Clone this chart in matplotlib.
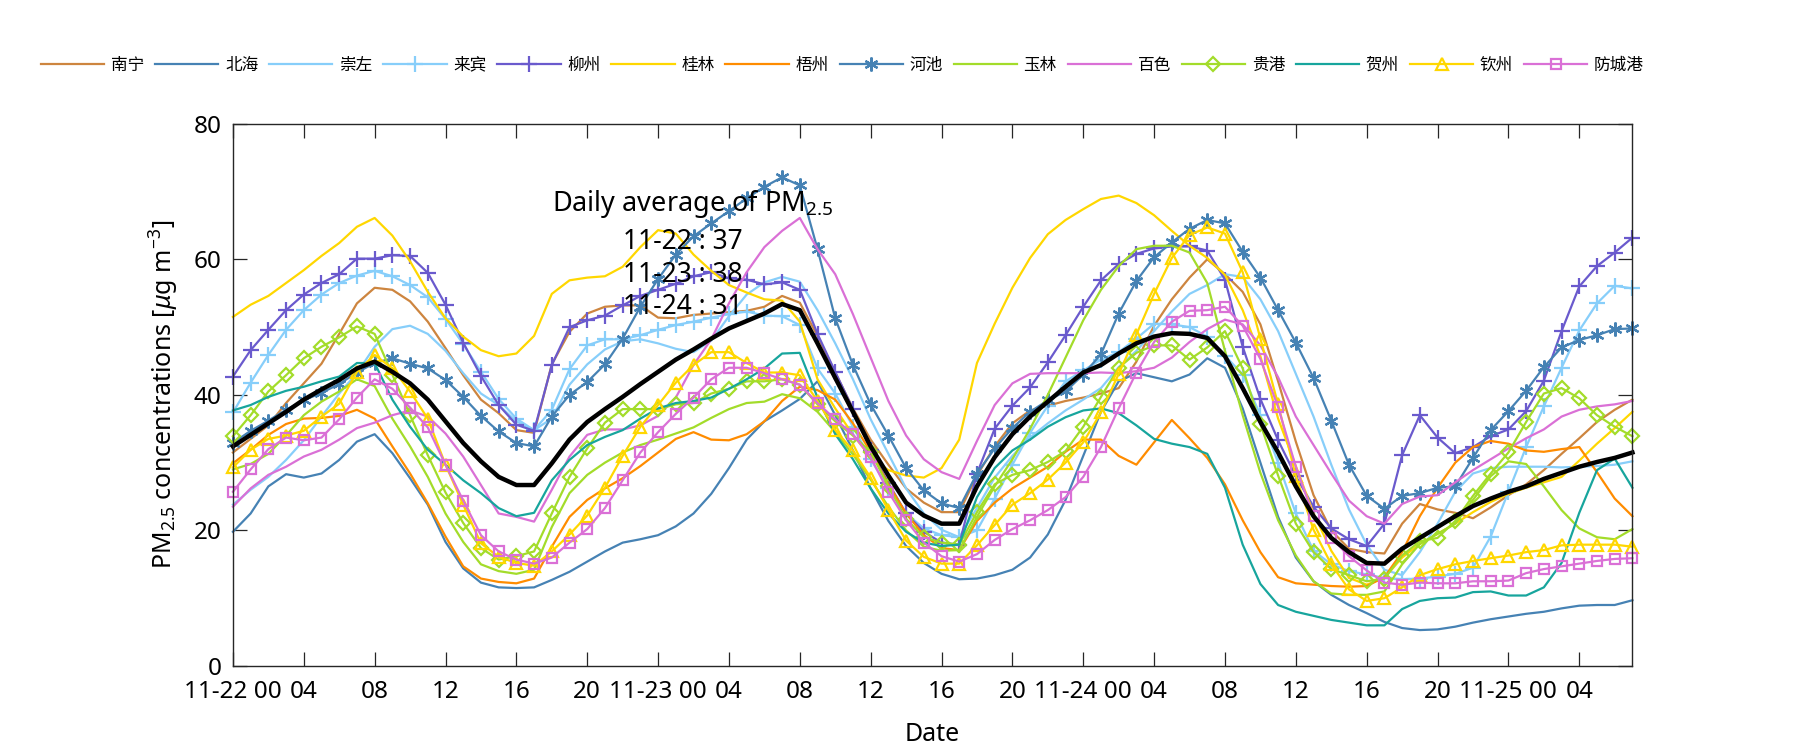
import numpy as np
import matplotlib
matplotlib.use("Agg")
import matplotlib.pyplot as plt

plt.rcParams['font.family'] = ['Noto Sans', 'Noto Sans CJK SC', 'DejaVu Sans']
plt.rcParams['mathtext.fontset'] = 'custom'
plt.rcParams['mathtext.rm'] = 'Noto Sans'
plt.rcParams['mathtext.it'] = 'Noto Sans:italic'

# hourly samples starting 11-22 00:00
hours = np.arange(80)

cities = ["南宁", "北海", "崇左", "来宾", "柳州", "桂林", "梧州",
          "河池", "玉林", "百色", "贵港", "贺州", "钦州", "防城港"]

nanning = [31.5, 33.5, 35.5, 38.8, 41.7, 44.6, 49.0, 53.5, 55.8, 55.5, 53.8, 50.8, 46.9, 42.9, 39.3, 37.3,
           34.8, 34.4, 44.5, 49.3, 52.0, 53.0, 53.2,
           53.2, 51.4, 51.3, 51.8, 52.0, 52.2, 52.4, 53.0, 54.6, 53.6, 48.7, 43.3, 38.0, 33.4, 29.7, 26.2,
           24.1, 22.7, 22.7, 28.1, 32.4, 35.8, 37.7, 38.4, 39.1, 39.6, 40.2,
           41.0, 44.9, 50.2, 54.1, 57.3, 60.0, 57.8, 55.2, 50.4, 42.0, 33.1, 25.2, 20.0, 17.3, 16.8, 16.6,
           21.0, 23.9, 23.1, 22.6, 21.8, 23.4, 25.2, 26.8, 28.9, 31.3, 33.6, 36.0, 37.8, 39.3]
beihai = [19.8, 22.5, 26.5, 28.3, 27.8, 28.4, 30.4, 33.1, 34.2, 31.4, 27.7, 23.8, 18.3, 14.4, 12.3, 11.6,
          11.5, 11.6, 12.7, 13.9, 15.4, 16.9, 18.2,
          18.7, 19.3, 20.6, 22.5, 25.4, 29.2, 33.4, 36.1, 37.7, 39.4, 42.0, 37.0, 31.8, 26.2, 21.4, 17.7,
          15.2, 13.6, 12.8, 12.9, 13.4, 14.2, 16.0, 19.4, 24.5, 31.0, 37.5,
          42.0, 43.2, 42.6, 42.0, 43.0, 45.4, 44.0, 38.0, 30.0, 22.0, 16.0, 12.5, 10.5, 9.0, 7.8, 6.5,
          5.6, 5.3, 5.4, 5.8, 6.4, 6.9, 7.3, 7.7, 8.0, 8.5, 8.9, 9.0, 9.0, 9.7]
chongzuo = [23.8, 26.0, 27.9, 30.4, 33.3, 36.8, 40.2, 43.2, 47.1, 49.7, 50.2, 49.0, 46.5, 43.2, 40.2, 38.5,
            36.1, 34.8, 36.5, 41.5, 44.5, 46.7, 47.9,
            48.2, 47.6, 46.8, 46.3, 48.0, 51.6, 54.8, 56.6, 57.4, 56.7, 52.5, 47.6, 42.3, 36.4, 31.3, 26.2,
            22.5, 20.1, 19.0, 23.3, 27.8, 31.0, 33.7, 35.8, 37.7, 39.3, 41.0,
            44.1, 46.5, 49.4, 52.3, 54.9, 56.2, 57.8, 57.4, 54.1, 49.4, 43.1, 36.8, 29.7, 23.1, 17.9, 14.2,
            13.4, 16.8, 21.0, 25.7, 28.4, 29.2, 29.4, 29.4, 29.4, 29.3, 29.4, 29.5, 29.7, 30.2]
laibin = [37.4, 41.8, 45.9, 49.6, 52.5, 54.8, 56.5, 57.6, 58.3, 57.5, 56.2, 54.4, 51.2, 47.5, 43.4, 39.4,
          36.5, 34.8, 37.8, 43.8, 47.3, 48.2, 48.2,
          48.8, 49.6, 50.3, 50.8, 51.4, 51.9, 52.3, 51.7, 51.6, 50.3, 43.9, 40.2, 35.3, 30.5, 26.2, 22.5,
          20.3, 19.3, 19.0, 20.0, 24.7, 29.7, 34.4, 38.4, 42.0, 43.6, 45.2,
          46.3, 48.3, 50.5, 50.4, 50.0, 48.6, 45.8, 43.0, 37.0, 30.0, 22.5, 17.0, 15.0, 14.0, 13.5, 13.0,
          12.8, 12.9, 13.2, 13.6, 14.5, 19.1, 25.7, 32.3, 38.3, 44.0, 49.5, 53.5, 56.1, 55.7]
liuzhou = [42.7, 46.6, 49.6, 52.5, 54.8, 56.5, 57.8, 60.1, 60.1, 60.6, 60.5, 58.0, 53.3, 47.7, 42.8, 38.5,
           35.6, 34.7, 44.4, 50.0, 51.0, 51.7, 53.2,
           54.6, 55.5, 56.4, 57.5, 58.1, 57.2, 57.0, 56.3, 56.6, 55.5, 49.0, 43.4, 37.9, 31.8, 27.0, 22.5,
           19.8, 18.2, 17.9, 28.4, 35.0, 38.4, 41.1, 44.8, 48.8, 53.0, 56.9,
           59.3, 60.8, 61.6, 61.9, 61.9, 61.3, 57.0, 47.1, 39.4, 33.3, 28.0, 23.5, 20.3, 18.7, 17.7, 21.0,
           31.1, 37.0, 33.7, 31.4, 32.3, 33.9, 34.9, 37.6, 42.1, 49.4, 56.0, 59.0, 61.0, 63.2]
guilin = [51.5, 53.3, 54.6, 56.5, 58.4, 60.5, 62.4, 64.8, 66.1, 63.5, 59.7, 55.2, 51.3, 48.6, 46.6, 45.7,
          46.1, 48.7, 54.9, 56.9, 57.3, 57.5, 58.9,
          61.8, 64.3, 63.8, 60.7, 58.3, 56.2, 55.1, 54.1, 53.9, 50.8, 42.3, 38.0, 34.1, 30.8, 28.9, 28.1,
          27.8, 29.2, 33.4, 44.7, 50.5, 55.8, 60.2, 63.7, 65.8, 67.4, 68.9,
          69.4, 68.3, 66.5, 64.2, 62.0, 60.2, 57.7, 52.5, 45.7, 36.5, 29.5, 22.5, 17.0, 13.0, 12.0, 13.0,
          16.0, 18.0, 19.5, 21.0, 22.7, 24.2, 25.4, 26.3, 27.1, 27.9, 30.3, 32.8, 35.1, 37.5]
wuzhou = [29.9, 31.9, 34.1, 35.7, 36.5, 36.6, 36.9, 37.8, 36.5, 32.4, 28.4, 24.0, 19.1, 14.7, 12.9, 12.4,
          12.2, 12.9, 17.6, 22.0, 24.5, 26.2, 27.7,
          29.5, 31.5, 33.5, 34.5, 33.4, 33.3, 34.2, 36.1, 39.1, 41.2, 40.7, 39.3, 35.8, 31.6, 26.8, 22.5,
          19.3, 17.4, 17.1, 21.4, 24.1, 26.2, 27.8, 29.4, 31.6, 33.4, 33.4,
          31.0, 29.7, 33.0, 36.3, 33.6, 30.7, 26.8, 21.5, 16.8, 13.1, 12.2, 12.0, 11.8, 11.7, 11.8, 13.1,
          16.8, 22.1, 26.3, 30.0, 32.3, 33.2, 32.8, 31.8, 31.6, 32.0, 32.3, 28.6, 24.7, 22.1]
hechi = [32.9, 34.7, 36.2, 37.8, 39.2, 40.3, 41.6, 43.3, 44.7, 45.4, 44.6, 43.9, 42.2, 39.7, 36.9, 34.6,
         32.9, 32.4, 36.8, 40.0, 41.9, 44.5,
         48.3, 53.0, 57.1, 60.7, 63.4, 65.3, 67.1, 69.0, 70.7, 72.1, 70.9, 61.5, 51.3, 44.4, 38.6, 34.0,
         29.2, 25.9, 24.0, 23.3, 28.4, 32.1, 35.1, 37.5, 39.2, 40.5, 43.0,
         46.0, 52.0, 56.8, 60.3, 62.5, 64.5, 65.8, 65.3, 61.1, 57.3, 52.5, 47.7, 42.5, 36.2, 29.7, 25.1,
         23.2, 25.1, 25.5, 26.3, 26.5, 30.7, 34.8, 37.6, 40.6, 44.1, 47.0, 48.1, 48.8, 49.7, 49.8]
yulin = [29.0, 29.8, 31.3, 34.0, 37.0, 39.0, 40.5, 42.3, 41.3, 36.5, 32.4, 27.9, 22.5, 18.3, 15.0, 14.0,
         13.6, 14.2, 20.5, 25.5, 28.2, 30.0, 31.5,
         32.6, 33.4, 34.3, 35.2, 36.6, 37.9, 38.8, 39.0, 40.1, 39.5, 37.5, 34.5, 31.2, 27.5, 23.5, 20.0,
         17.6, 17.0, 17.1, 22.0, 26.5, 30.5, 35.0, 40.0, 45.5, 51.0, 55.5,
         59.0, 61.5, 62.0, 62.0, 61.0, 56.5, 46.5, 37.0, 28.5, 21.5, 16.3, 12.5, 10.7, 10.5, 10.5, 11.0,
         15.0, 18.0, 19.5, 21.0, 24.5, 28.0, 30.2, 29.8, 26.5, 23.0, 20.3, 19.0, 18.7, 20.2]
baise = [23.5, 26.2, 28.2, 29.4, 30.9, 31.9, 33.4, 35.1, 35.9, 37.0, 37.7, 36.8, 34.3, 30.9, 26.7, 22.5,
         22.0, 21.3, 26.0, 30.9, 34.1, 34.9, 34.9,
         35.5, 36.9, 39.6, 44.4, 48.2, 53.5, 58.1, 61.8, 64.2, 66.1, 61.5, 57.8, 51.9, 45.5, 39.1, 34.0,
         30.5, 28.6, 27.6, 33.2, 38.5, 41.7, 43.1, 43.2, 43.2, 43.2, 43.3,
         43.2, 43.5, 44.0, 45.5, 47.8, 49.7, 51.1, 50.4, 47.3, 42.6, 36.8, 32.6, 28.4, 24.4, 22.1, 21.0,
         23.9, 25.0, 25.2, 27.1, 28.9, 30.5, 32.1, 33.6, 34.9, 36.8, 37.8, 38.3, 38.6, 39.1]
guigang = [33.9, 37.0, 40.5, 42.9, 45.4, 47.1, 48.5, 50.1, 49.0, 43.0, 37.0, 31.1, 25.6, 21.1, 17.4, 15.7,
           16.2, 16.9, 22.5, 27.9, 32.1, 35.9, 37.9,
           37.9, 37.9, 38.6, 38.8, 40.2, 40.9, 42.0, 42.0, 42.3, 41.5, 38.6, 36.1, 34.0, 31.6, 26.5, 21.7,
           19.0, 18.2, 17.9, 22.7, 26.8, 28.2, 28.9, 30.1, 31.7, 35.3, 39.7,
           44.0, 46.2, 47.3, 47.3, 45.2, 47.0, 49.4, 43.9, 35.7, 28.1, 21.0, 16.8, 14.3, 13.4, 12.5, 12.9,
           16.3, 18.4, 18.9, 21.4, 25.1, 28.4, 31.5, 36.0, 40.2, 41.0, 39.5, 37.0, 35.3, 33.9]
hezhou = [37.7, 38.5, 39.7, 40.6, 41.2, 42.0, 42.7, 44.7, 44.7, 39.3, 35.3, 31.9, 29.7, 27.4, 25.5, 23.3,
          22.1, 22.6, 27.4, 30.4, 32.6, 33.8, 34.8,
          36.5, 38.0, 38.8, 39.1, 39.6, 40.9, 42.3, 43.9, 46.1, 46.2, 39.6, 34.2, 30.5, 26.2, 22.5, 19.8,
          18.2, 17.7, 17.9, 24.9, 29.2, 31.8, 33.4, 35.3, 36.7, 37.7, 38.0,
          37.3, 35.5, 33.5, 32.8, 32.3, 31.3, 26.3, 17.9, 12.1, 9.0, 8.0, 7.4, 6.8, 6.4, 6.0, 6.0,
          8.4, 9.6, 10.0, 10.1, 10.9, 11.0, 10.4, 10.4, 11.6, 15.2, 22.6, 28.9, 30.6, 26.3]
qinzhou = [29.3, 31.9, 33.5, 34.0, 34.7, 36.8, 38.7, 43.4, 45.9, 43.9, 40.5, 36.5, 29.7, 23.8, 18.1, 16.1,
           15.2, 14.8, 16.9, 19.4, 22.2, 26.3, 31.0,
           35.3, 38.5, 41.8, 44.4, 46.3, 46.3, 44.7, 43.3, 43.3, 42.9, 39.1, 34.8, 31.8, 27.8, 23.0, 18.5,
           16.1, 15.1, 15.1, 17.8, 20.8, 23.8, 25.5, 27.5, 30.0, 33.0, 37.4,
           43.1, 48.9, 54.9, 60.2, 63.6, 64.7, 63.8, 58.1, 48.3, 38.6, 28.0, 20.1, 15.0, 11.3, 9.6, 10.0,
           11.6, 13.4, 14.3, 15.0, 15.5, 15.9, 16.3, 16.8, 17.1, 17.8, 17.9, 17.9, 17.9, 17.6]
fangchenggang = [25.7, 29.0, 32.0, 33.7, 33.3, 33.7, 36.4, 39.6, 42.3, 40.9, 38.1, 35.2, 29.7, 24.4, 19.3, 16.9,
                 15.7, 15.1, 16.0, 18.2, 20.2, 23.3, 27.4,
                 31.5, 34.5, 37.2, 39.6, 42.3, 44.0, 44.0, 43.2, 42.3, 41.5, 38.8, 36.4, 34.2, 30.8, 25.7, 21.5,
                 18.2, 16.2, 15.4, 16.5, 18.6, 20.2, 21.5, 23.0, 24.9, 27.9, 32.3,
                 38.0, 43.3, 47.8, 50.8, 52.4, 52.5, 53.0, 50.2, 45.3, 38.2, 29.4, 22.1, 18.9, 16.2, 14.1, 12.3,
                 12.0, 12.3, 12.2, 12.2, 12.5, 12.5, 12.6, 13.7, 14.3, 14.7, 15.1, 15.5, 15.8, 15.9]
average = [32.4, 34.1, 35.8, 37.5, 39.3, 40.8, 42.2, 43.9, 44.9, 43.4, 41.7, 39.3, 36.1, 32.9, 30.2, 27.9,
           26.7, 26.7, 29.9, 33.4, 36.0, 37.9, 39.7,
           41.6, 43.4, 45.2, 46.7, 48.3, 49.8, 50.9, 52.0, 53.4, 52.5, 47.6, 42.5, 37.5, 32.4, 28.1, 24.1,
           22.2, 21.0, 21.0, 26.5, 30.8, 34.2, 36.8, 39.0, 41.2, 43.3,
           44.4, 46.1, 47.6, 48.6, 49.1, 49.0, 48.4, 45.7, 41.0, 36.0, 31.5, 26.5, 22.1, 18.9, 16.8, 15.2,
           15.1, 17.3, 18.9, 20.5, 22.1, 23.6, 24.7, 25.7, 26.5, 27.6, 28.5, 29.4, 30.1, 30.7, 31.5]

daily_avg_labels = ["11-22 : 37", "11-23 : 38", "11-24 : 31"]
day_names = ["11-22", "11-23", "11-24", "11-25"]

series = [nanning, beihai, chongzuo, laibin, liuzhou, guilin, wuzhou,
          hechi, yulin, baise, guigang, hezhou, qinzhou, fangchenggang]

yg = '#A3DC2A'
colors = ['#CD853F', '#4682B4', '#87CEFA', '#87CEFA', '#6A5ACD', '#FFD700', '#FF8C00',
          '#4682B4', yg, '#DA70D6', yg, '#17A59D', '#FFD700', '#DA70D6']
asterisk = (6, 2, 0)
markers = [None, None, None, '+', '+', None, None,
           asterisk, None, None, 'D', None, '^', 's']
msizes = {'+': 11, asterisk: 10, 'D': 7.5, '^': 9, 's': 7}


def xtick_labels(ticks):
    labels = []
    for t in ticks:
        if t % 24 == 0:
            labels.append(day_names[t // 24] + " 00")
        else:
            labels.append("%02d" % (t % 24))
    return labels


fig = plt.figure(figsize=(18, 7.5), dpi=100)
ax = fig.add_axes([0.1294, 0.112, 0.7775, 0.723])

handles = []
for name, vals, c, m in zip(cities, series, colors, markers):
    kw = dict(color=c, linewidth=1.6, label=name, clip_on=False)
    if m is not None:
        kw.update(marker=m, markersize=msizes[m], markerfacecolor='none',
                  markeredgecolor=c, markeredgewidth=1.6)
    line, = ax.plot(hours, vals, **kw)
    handles.append(line)

# regional mean on top
ax.plot(hours, average, color='black', linewidth=3.2, clip_on=False)

ax.set_xlim(0, 79)
ax.set_ylim(0, 80)
xt = list(range(0, 80, 4))
ax.set_xticks(xt)
ax.set_xticklabels(xtick_labels(xt))
ax.set_yticks([0, 20, 40, 60, 80])

for side in ax.spines.values():
    side.set_color('#262626')
    side.set_linewidth(1.0)
ax.tick_params(direction='in', length=10, width=0.9, color='#262626',
               top=True, right=True, labelsize=17.5)
ax.tick_params(axis='x', pad=10)
ax.tick_params(axis='y', pad=8)

ax.set_xlabel("Date", fontsize=18, labelpad=13)
ax.set_ylabel("PM$_{2.5}$ concentrations [$\\mu$g m$^{-3}$]", fontsize=18, labelpad=9)

# daily mean annotation
ax.text(18.0, 68.2, "Daily average of PM$_{2.5}$", fontsize=19.5, va='center', ha='left')
for i, s in enumerate(daily_avg_labels):
    ax.text(22.0, 62.6 - 4.85 * i, s, fontsize=19, va='center', ha='left')

leg = fig.legend(handles=handles, loc='center', bbox_to_anchor=(0.468, 0.913), ncol=14,
                 frameon=False, prop={'family': ['Noto Sans CJK SC', 'DejaVu Sans'], 'size': 12},
                 handlelength=3.8, handletextpad=0.4, columnspacing=0.65)

fig.savefig("out.png", dpi=100)
